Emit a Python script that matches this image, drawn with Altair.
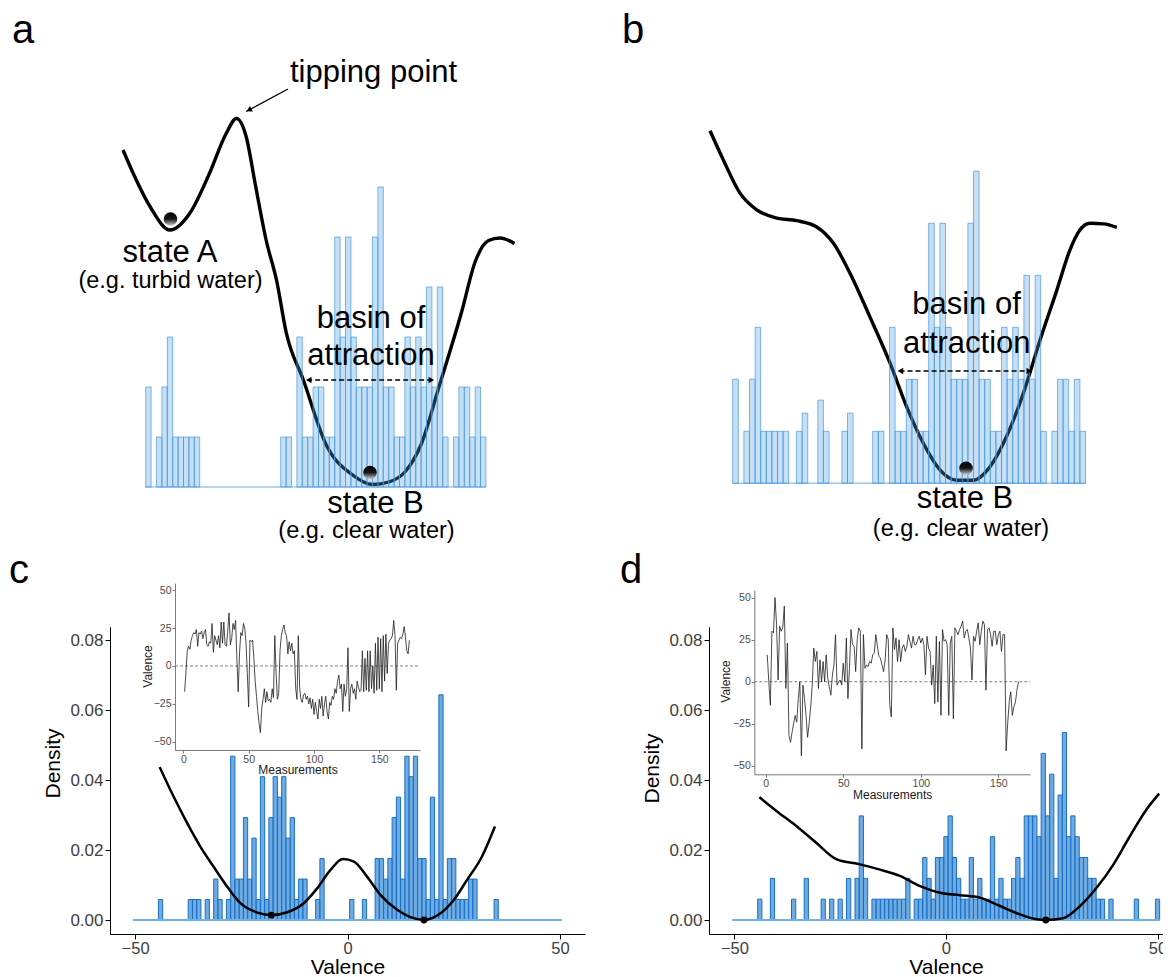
import altair as alt
import pandas as pd

FONT = "Liberation Sans"
W, H = 1155, 969

# ------------------------------------------------------------------
# Panels a / b : schematic landscapes over a histogram (bin -> count)
# ------------------------------------------------------------------
ab_counts = [2, 0, 1, 2, 3, 1, 1, 1, 1, 1,
             0, 0, 0, 0, 0, 0, 0, 0, 0, 0,
             0, 0, 0, 0, 0,
             1, 1, 0, 3, 1, 1, 2, 2, 1, 1,
             5, 3, 5, 3, 2, 2, 2, 5, 6, 2,
             2, 1, 1, 3, 2, 3, 2, 4, 2, 4,
             1, 0, 1, 2, 2, 1, 2, 1]
b_extra_left = [11.4, 12.4, 15.2, 16.2, 19.5, 20.5]
b_extra_count = [1, 1.35, 1.6, 1, 1, 1.35]

a_curve_x = [-4.2, -2.3, 0.8, 4.5, 8.2, 11.8, 14.9, 16.8, 18.6, 20.3, 22.3, 24.3,
             26.0, 29.2, 33.4, 38.2, 42.0, 45.0, 48.0, 51.0, 54.3, 58.5, 61.0,
             63.5, 65.6, 68.3]
a_curve_y = [6.74, 6.27, 5.61, 5.14, 5.48, 6.27, 7.07, 7.37, 7.01, 6.05, 4.94, 4.1,
             3.1, 2.14, 0.85, 0.25, 0.05, 0.1, 0.3, 0.85, 2.0, 3.5, 4.5,
             4.93, 4.98, 4.87]
b_curve_x = [-4.05, -1.68, 1.30, 4.29, 7.86, 11.43, 15.0, 17.96, 20.95, 24.5, 28.1,
             31.07, 34.04, 37.0, 40.0, 42.96, 45.95, 48.9, 51.9, 54.9, 57.9, 60.23,
             62.0, 63.8, 66.2, 68.6]
b_curve_y = [6.78, 6.22, 5.58, 5.26, 5.10, 5.05, 4.93, 4.62, 4.04, 3.20, 2.31,
             1.47, 0.77, 0.26, 0.06, 0.06, 0.32, 0.90, 1.73, 2.76, 3.72, 4.49,
             4.87, 5.0, 4.99, 4.92]

# ------------------------------------------------------------------
# Panels c / d : density histograms of valence (bin centre -> count)
# ------------------------------------------------------------------
c_val = [-44, -37, -36, -35, -33, -31, -30, -28, -27, -26, -25, -24, -23, -22, -21,
         -20, -19, -18, -17, -16, -15, -14, -13, -12, -11, -10, -7, -6, 1, 4,
         7, 8, 9, 10, 11, 12, 13, 14, 15, 16, 17, 18, 19, 20, 21, 22, 23, 24, 25,
         26, 27, 28, 29, 30, 35]
c_cnt = [1, 1, 1, 1, 1, 2, 1, 1, 8, 2, 2, 5, 2, 4, 1,
         7, 1, 5, 7, 6, 7, 4, 5, 1, 2, 2, 1, 3, 1, 1,
         3, 3, 2, 3, 5, 6, 2, 8, 7, 8, 3, 3, 1, 6, 1, 11, 1, 3, 3,
         1, 1, 1, 2, 2, 1]
c_step = 0.00585  # density of one observation

d_val = [-44, -41, -36, -33, -29, -27, -25, -23, -21, -20, -19, -17, -16, -15, -14,
         -13, -12, -11, -10, -9, -7, -6, -5, -4, -3, -2, -1, 0, 1, 2, 3, 4, 5, 6,
         7, 8, 9, 10, 11, 12, 13, 14, 15, 16, 17, 18, 19, 20, 21, 22, 23, 24, 25,
         26, 27, 28, 29, 30, 31, 32, 33, 34, 35, 36, 37, 39, 45, 50]
d_cnt = [1, 2, 1, 2, 1, 1, 1, 2, 2, 5, 2, 1, 1, 1, 1,
         1, 1, 1, 1, 2, 1, 1, 3, 2, 1, 3, 3, 4, 5, 3, 2, 1, 1, 3,
         1, 2, 1, 1, 4, 1, 2, 1, 1, 2, 3, 2, 5, 5, 5, 4, 8, 5, 7,
         2, 6, 9, 4, 5, 4, 3, 3, 2, 2, 1, 1, 1, 1, 1]
d_step = 0.00595

c_curve_v = [-44.2, -40.9, -37.7, -34.6, -31.5, -28.3, -25.2, -21.2, -17.9, -14.2,
             -10.3, -7.1, -4.0, -1.1, 1.5, 4.6, 7.8, 11.7, 14.8, 18.0, 21.9, 25.0,
             28.1, 31.6, 34.7]
c_curve_d = [0.0437, 0.0352, 0.0276, 0.0209, 0.0152, 0.0095, 0.0048, 0.0021, 0.0014,
             0.0022, 0.0048, 0.0091, 0.0143, 0.0174, 0.0167, 0.0124, 0.0071, 0.0029,
             0.0008, 0.0, 0.0019, 0.0057, 0.0114, 0.018, 0.0267]
c_min_v = [-17.9, 18.0]
c_min_d = [0.0014, 0.0]

d_curve_v = [-44.1, -40.0, -35.3, -30.6, -25.8, -20.3, -15.6, -10.9, -6.1, -1.4, 3.3,
             8.0, 12.8, 17.5, 21.4, 23.6, 27.7, 31.7, 35.6, 39.6, 43.5, 47.4, 50.4]
d_curve_d = [0.0351, 0.0311, 0.0268, 0.0220, 0.0173, 0.0159, 0.0144, 0.0126, 0.0097,
             0.0078, 0.0071, 0.0064, 0.0040, 0.0016, 0.0002, 0.0, 0.0005, 0.0040,
             0.0092, 0.0159, 0.0240, 0.0316, 0.0361]
d_min_v = [23.6]
d_min_d = [0.0]

# inset time series (valence per measurement, starting at measurement 1)
c_series = [-17, -5, 10, 13, 11, 17, 20, 22, 21, 24, 13, 22, 21, 23, 18, 22, 24, 14,
            13, 16, 15, 28, 9, 20, 17, 14, 20, 12, 29, 15, 29, 14, 13, 23, 35, 14,
            18, 28, 24, 30, 5, -17, 8, 22, 20, 28, 25, 15, -5, -27, 17, 16, 17, 5,
            -10, -20, -30, -38, -44, -28, -22, -15, -24, -17, -23, -22, -24, -15,
            -21, 20, -5, -22, -18, 10, 20, 24, 27, 22, 20, 8, 16, 10, 15, 8, 10,
            -15, -22, 20, -14, -22, -24, -19, -18, -22, -20, -25, -21, -28, -22,
            -32, -24, -30, -35, -22, -28, -20, -33, -25, -20, -30, -35, -24, -26,
            -20, -22, -15, -18, -10, -6, -15, -12, -30, -12, -20, -15, 12, -30,
            -15, -12, -18, -15, -22, -10, -14, -17, -16, 10, -17, 5, -16, 10, -17,
            10, -15, 0, -18, 15, -16, 19, -15, 18, -17, 20, -10, 21, -5, 15, 17,
            18, 20, 30, 20, -16, 15, 17, 19, 18, 21, 26, 19, 10, 8, 17]
d_series = [16, 0, -14, 30, 29, 50, 34, 1, 33, 30, 32, 45, -4, 23, -32, -36, -30,
            -25, -20, -24, -10, 0, -44, -2, -10, -20, -33, -25, -15, -2, 20, 12,
            18, -4, 13, 0, 12, 0, 16, 2, -3, -8, 4, 10, 28, -2, 0, 1, -2, 11, 0,
            26, -10, 8, 31, 22, 21, 6, 25, 32, 30, -40, 28, 8, 10, 9, 12, 11, 16,
            17, 28, 21, 15, 14, 10, 6, 13, 28, 25, -14, -21, 32, 19, 26, 12, 25,
            12, 20, 22, 18, 21, 28, 24, 20, 27, 22, 22, 25, 27, 23, 26, 22, 4, 27,
            20, 18, -2, 10, -13, 27, -12, 24, -20, 31, 24, 25, 22, -20, 23, 27,
            -22, 32, 30, 28, 31, 33, 36, 26, 30, 31, 26, 20, 1, 27, 24, 30, 35,
            22, 30, 36, 34, -5, 31, 32, 28, 21, 30, 30, 22, 28, 30, 18, 28, 28,
            -41, -25, -12, -6, -20, -15, -12, -5, 0]

# ------------------------------------------------------------------
def sc(dom, rng):
    return alt.Scale(domain=dom, range=rng, nice=False, zero=False)

SXA, SYA = sc([0, 63], [137.7, 477.9]), sc([0, 6], [479, 179])
SXB, SYB = sc([0, 63], [724.7, 1077.5]), sc([0, 6], [475.3, 163.3])
SXC, SYC = sc([-55.9, 55.9], [102, 577]), sc([-0.004, 0.0838], [926, 618.7])
SXD, SYD = sc([-56, 56], [701, 1174.9]), sc([-0.004, 0.0838], [926, 618.7])
SXCI, SYCI = sc([-6.35, 181.1], [167, 412]), sc([-55.4, 54.7], [742, 575])
SXDI, SYDI = sc([-7.35, 170.4], [746.3, 1022]), sc([-55, 54.5], [766.3, 582])

BALL = alt.LinearGradient(
    gradient="linear", x1=0, x2=0, y1=0, y2=1,
    stops=[alt.GradientStop(color="#000000", offset=0),
           alt.GradientStop(color="#151515", offset=0.5),
           alt.GradientStop(color="#d0d0d0", offset=1)])


def enc_xy(ch, sx, sy, xf="x", yf="y", ax=None, ay=None):
    return ch.encode(x=alt.X(f"{xf}:Q", scale=sx, axis=ax),
                     y=alt.Y(f"{yf}:Q", scale=sy, axis=ay))


def texts(rows, sx, sy, size, align="center"):
    df = pd.DataFrame(rows, columns=["t", "x", "y"])
    ch = alt.Chart(df).mark_text(font=FONT, fontSize=size, align=align,
                                 baseline="alphabetic", color="black")
    return enc_xy(ch, sx, sy).encode(text="t:N")


def heads(rows, sx, sy, size=45):
    df = pd.DataFrame(rows, columns=["x", "y", "ang"])
    ch = alt.Chart(df).mark_point(shape="triangle-up", filled=True, color="black",
                                  opacity=1, size=size)
    return enc_xy(ch, sx, sy).encode(angle=alt.Angle("ang:Q", scale=None))


def seg(rows, sx, sy, **kw):
    df = pd.DataFrame(rows, columns=["x", "y", "x2", "y2"])
    return alt.Chart(df).mark_rule(**kw).encode(
        x=alt.X("x:Q", scale=sx, axis=None), y=alt.Y("y:Q", scale=sy, axis=None),
        x2="x2:Q", y2="y2:Q")


layers = []

# ---------------- panel a / b ----------------
def schematic(counts, extra_left, extra_cnt, cx, cy, sx, sy, balls):
    lefts = [i for i, c in enumerate(counts) if c > 0] + list(extra_left)
    hs = [c for c in counts if c > 0] + list(extra_cnt)
    hdf = pd.DataFrame({"x": lefts, "h": hs})
    hdf["x1"] = hdf["x"] + 1
    hdf["b"] = 0
    out = []
    out.append(seg([[0, 0, 63, 0]], sx, sy, color="#9cc8ec", strokeWidth=1.5))
    cdf = pd.DataFrame({"x": cx, "y": cy})
    out.append(enc_xy(alt.Chart(cdf).mark_line(color="black", strokeWidth=3.4,
                                               interpolate="monotone"), sx, sy))
    out.append(alt.Chart(hdf).mark_rect(fill="#4a9ade", fillOpacity=0.32,
                                        stroke="#4a9ade", strokeOpacity=0.7,
                                        strokeWidth=1).encode(
        x=alt.X("x:Q", scale=sx, axis=None), x2="x1:Q",
        y=alt.Y("h:Q", scale=sy, axis=None), y2="b:Q"))
    bdf = pd.DataFrame(balls, columns=["x", "y"])
    out.append(enc_xy(alt.Chart(bdf).mark_circle(color=BALL, size=185, opacity=1),
                      sx, sy))
    return out


layers += schematic(ab_counts, [], [], a_curve_x, a_curve_y, SXA, SYA,
                    [[4.59, 5.36], [41.54, 0.29]])
layers += schematic(ab_counts, b_extra_left, b_extra_count, b_curve_x, b_curve_y,
                    SXB, SYB, [[41.66, 0.29]])

# annotations a
layers.append(texts([["tipping point", 26.72, 8.1]], SXA, SYA, 31, "left"))
layers.append(seg([[26.35, 7.96, 18.6, 7.51]], SXA, SYA, color="black",
                  strokeWidth=1.3))
layers.append(heads([[19.13, 7.54, 242]], SXA, SYA, 40))
layers.append(texts([["state A", 4.5, 4.5], ["basin of", 41.72, 3.18],
                     ["attraction", 41.72, 2.44], ["state B", 42.56, -0.52]],
                    SXA, SYA, 31))
layers.append(texts([["(e.g. turbid water)", 4.59, 3.98],
                     ["(e.g. clear water)", 40.89, -1.02]], SXA, SYA, 23.5))
layers.append(seg([[29.9, 2.14, 53.2, 2.14]], SXA, SYA, color="black",
                  strokeWidth=1.5, strokeDash=[5, 3]))
layers.append(heads([[30.2, 2.14, 270], [52.9, 2.14, 90]], SXA, SYA, 40))

# annotations b
layers.append(texts([["basin of", 41.75, 3.26], ["attraction", 41.8, 2.51],
                     ["state B", 41.48, -0.475]], SXB, SYB, 31))
layers.append(texts([["(e.g. clear water)", 40.77, -1.01]], SXB, SYB, 23.5))
layers.append(seg([[29.8, 2.16, 53.1, 2.16]], SXB, SYB, color="black",
                  strokeWidth=1.5, strokeDash=[5, 3]))
layers.append(heads([[29.95, 2.16, 270], [52.95, 2.16, 90]], SXB, SYB, 40))


# ---------------- panel c / d ----------------
def main_axes(offx, offy, title_y):
    ax = alt.Axis(orient="bottom", offset=offx, values=[-50, 0, 50], grid=False,
                  domainColor="black", domainWidth=1, tickColor="black", tickSize=5,
                  labelFont=FONT, labelFontSize=16.5, labelColor="#404040",
                  labelPadding=1, title="Valence", titleFont=FONT, titleFontSize=21,
                  titleFontWeight="normal", titleColor="black",
                  titleBaseline="alphabetic", titleY=39.5)
    ay = alt.Axis(orient="left", offset=offy, values=[0, 0.02, 0.04, 0.06, 0.08],
                  format=".2f", grid=False, domainColor="black", domainWidth=1,
                  tickColor="black", tickSize=5, labelFont=FONT, labelFontSize=17,
                  labelColor="#404040", labelPadding=2, title="Density",
                  titleFont=FONT, titleFontSize=21, titleFontWeight="normal",
                  titleColor="black", titleBaseline="alphabetic", titleX=-51,
                  titleY=title_y)
    return ax, ay


def inset_axes(offx, offy, tx, ty, txy):
    ax = alt.Axis(orient="bottom", offset=offx, values=[0, 50, 100, 150], grid=False,
                  domainColor="#7a7a7a", tickColor="#7a7a7a", tickSize=3,
                  labelFont=FONT, labelFontSize=10.5, labelColor="#4d4d4d",
                  labelPadding=1, title="Measurements", titleFont=FONT,
                  titleFontSize=12, titleFontWeight="normal", titleColor="#1a1a1a",
                  titleBaseline="alphabetic", titleY=txy)
    ay = alt.Axis(orient="left", offset=offy, values=[-50, -25, 0, 25, 50],
                  grid=False, domainColor="#7a7a7a", tickColor="#7a7a7a",
                  tickSize=3, labelFont=FONT, labelFontSize=10.5,
                  labelColor="#4d4d4d", labelPadding=1, title="Valence",
                  titleFont=FONT, titleFontSize=12, titleFontWeight="normal",
                  titleColor="#1a1a1a", titleBaseline="alphabetic", titleX=tx,
                  titleY=ty)
    return ax, ay


def density_panel(vals, cnts, step, cv, cd, mv, md, sx, sy, axes):
    ax, ay = axes
    hdf = pd.DataFrame({"v": vals, "c": cnts})
    hdf["x"] = hdf["v"] - 0.5
    hdf["x1"] = hdf["v"] + 0.5
    hdf["h"] = hdf["c"] * step
    hdf["b"] = 0.0
    out = []
    out.append(alt.Chart(hdf).mark_rect(fill="#3c8fd8", fillOpacity=0.75,
                                        stroke="#1a6fc2", strokeWidth=1).encode(
        x=alt.X("x:Q", scale=sx, axis=ax), x2="x1:Q",
        y=alt.Y("h:Q", scale=sy, axis=ay), y2="b:Q"))
    out.append(seg([[-50.5, 0, 50.5, 0]], sx, sy, color="#6fb2ea", strokeWidth=2))
    cdf = pd.DataFrame({"x": cv, "y": cd})
    out.append(enc_xy(alt.Chart(cdf).mark_line(color="black", strokeWidth=2.5,
                                               interpolate="monotone"), sx, sy))
    mdf = pd.DataFrame({"x": mv, "y": md})
    out.append(enc_xy(alt.Chart(mdf).mark_circle(color="black", size=48, opacity=1),
                      sx, sy))
    return out


def inset(series, sx, sy, axes, dom):
    ax, ay = axes
    sdf = pd.DataFrame({"x": range(1, len(series) + 1), "y": series})
    out = [seg([[dom[0], 0, dom[1], 0]], sx, sy, color="#808080", strokeWidth=1,
               strokeDash=[3, 2])]
    out.append(alt.Chart(sdf).mark_line(color="#1e1e1e", strokeWidth=0.8).encode(
        x=alt.X("x:Q", scale=sx, axis=ax), y=alt.Y("y:Q", scale=sy, axis=ay)))
    return out


layers += density_panel(c_val, c_cnt, c_step, c_curve_v, c_curve_d, c_min_v, c_min_d,
                        SXC, SYC, main_axes(926 - H, -102, 755))
layers += density_panel(d_val, d_cnt, d_step, d_curve_v, d_curve_d, d_min_v, d_min_d,
                        SXD, SYD, main_axes(926 - H, -701, 760))
layers += inset(c_series, SXCI, SYCI, inset_axes(742 - H, -167, -24, 658, 23),
                [-6.35, 181.1])
layers += inset(d_series, SXDI, SYDI, inset_axes(766.3 - H, -746.3, -25, 673, 24.5),
                [-7.35, 170.4])

# ---------------- panel letters ----------------
for lab, px, py in [("a", 4, 35), ("b", 614, 35), ("c", 1, 575), ("d", 612, 575)]:
    layers.append(alt.Chart(pd.DataFrame({"t": [lab]})).mark_text(
        font=FONT, fontSize=40, align="left", baseline="alphabetic",
        color="black").encode(x=alt.value(px), y=alt.value(py), text="t:N"))

chart = (alt.layer(*layers)
         .resolve_scale(x="independent", y="independent")
         .properties(width=W, height=H, padding=0, background="white",
                     autosize=alt.AutoSizeParams(type="none"))
         .configure_view(stroke=None))

chart.save("out.html", embed_options={"renderer": "svg", "actions": False})
